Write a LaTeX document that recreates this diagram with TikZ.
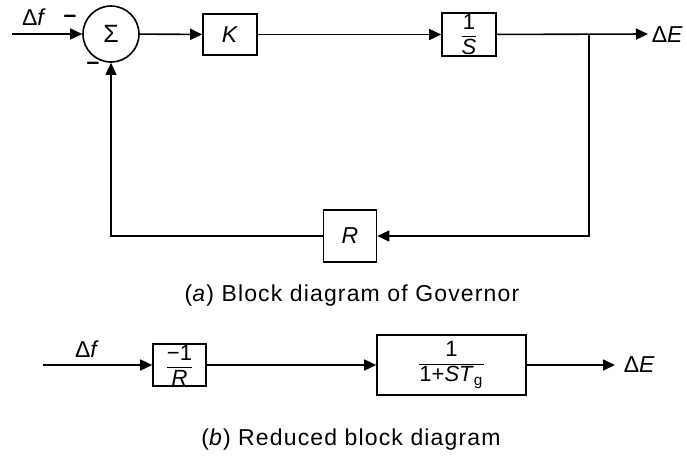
\documentclass[tikz,border=0pt]{standalone}
\usepackage{fontspec}
\usepackage{amsmath}
\setmainfont{Liberation Sans}
\usetikzlibrary{arrows.meta}
\newcommand{\blkfrac}[2]{$\dfrac{\text{\fontsize{11}{12}\selectfont #1}}{\text{\fontsize{11}{12}\selectfont #2}}$}

\begin{document}
\begin{tikzpicture}[>={Triangle[length=6pt,width=5.5pt]}, x=0.5pt, y=-0.5pt, line width=0.8pt, font=\fontsize{11.5}{13}\selectfont]
  \tikzset{box/.style={draw, inner sep=0pt, align=center},
           frac/.style={font=\fontsize{9.5}{11}\selectfont},
           caption/.style={font=\fontsize{11.5}{13}\selectfont\addfontfeature{LetterSpace=5}}}
  \useasboundingbox (0,0) rectangle (687,457);
  % (a) governor loop
  \coordinate (in) at (12,34);
  \node[draw, circle, minimum size=28pt, inner sep=0pt, font=\fontsize{12.5}{14}\selectfont] (sum) at (111,34) {Σ};
  \node[box, minimum width=27pt, minimum height=20.5pt] (K) at (230,34.5) {\textit{K}};
  \node[box, frac, minimum width=27pt, minimum height=21.5pt] (integ) at (469,34.5) {\blkfrac{1}{\textit{S}}};
  \coordinate (branch) at (589,34);
  \coordinate (out) at (648,34);
  \node[anchor=west, inner sep=0pt] (dE) at (651,35) {Δ\textit{E}};
  \node[box, minimum width=26.5pt, minimum height=26pt] (R) at (350,236) {\textit{R}};
  \node (df) at (34,17) {Δ\textit{f}};
  \node (minusA) at (70,19) {\textbf{–}};
  \node (minusB) at (93,66) {\textbf{–}};
  \draw[->] (in) -- (sum);
  \draw[->] (sum) -- (K);
  \draw[->] (K) -- (integ);
  \draw[->] (integ) -- (out);
  \draw[->] (branch) |- (R);
  \draw[->] (R) -| (sum);
  \node[caption] (capA) at (352,296) {(\textit{a}) Block diagram of Governor};
  % (b) reduced form
  \coordinate (inB) at (43,365);
  \node (dfB) at (87,349) {Δ\textit{f}};
  \node[box, frac, minimum width=26.5pt, minimum height=21pt] (gainB) at (179.5,365) {\blkfrac{−1}{\textit{R}}};
  \node[box, frac, minimum width=74.5pt, minimum height=30pt] (gov) at (451.5,365) {\blkfrac{1}{1+\textit{ST}\textsubscript{g}}};
  \coordinate (outB) at (615,365);
  \node[anchor=west, inner sep=0pt] (dEB) at (623,365) {Δ\textit{E}};
  \draw[->] (inB) -- (gainB);
  \draw[->] (gainB) -- (gov);
  \draw[->] (gov) -- (outB);
  \node[caption] (capB) at (351,440) {(\textit{b}) Reduced block diagram};
\end{tikzpicture}
\end{document}
